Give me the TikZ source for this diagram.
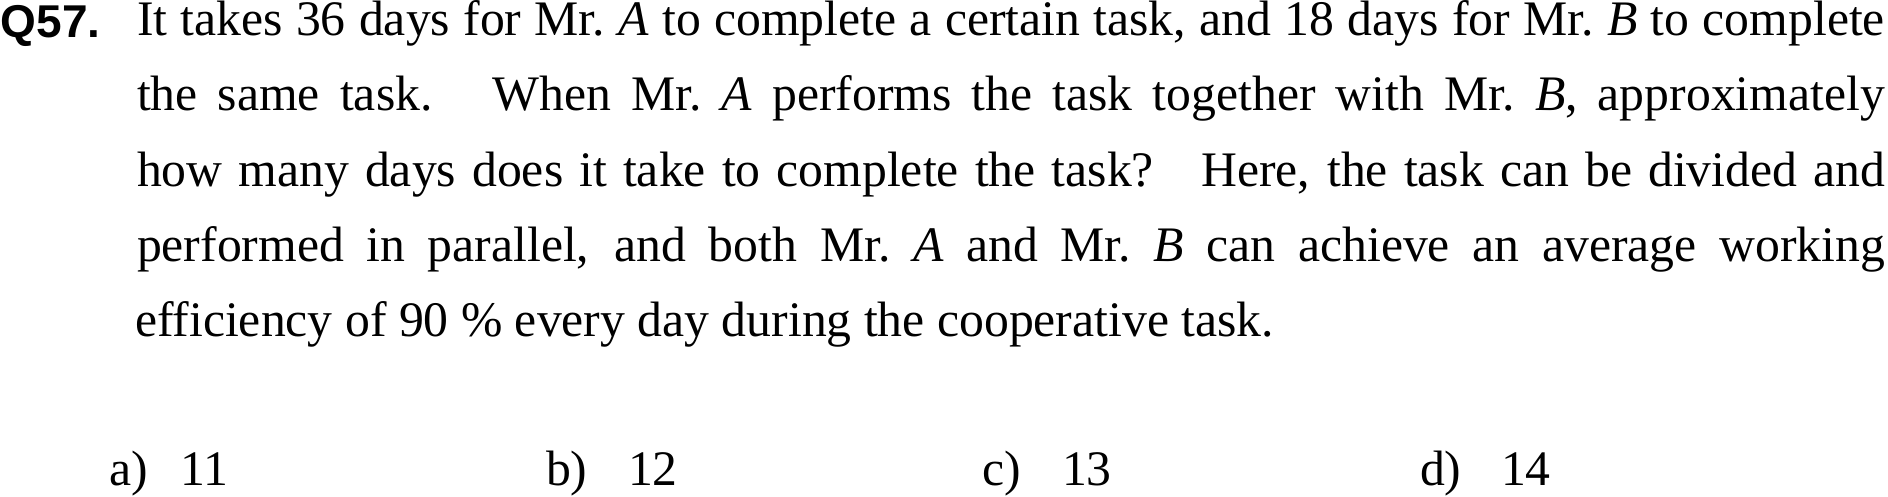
\documentclass[tikz,border=0pt]{standalone}
\usepackage{fontspec}
\setmainfont{Liberation Serif}
\newfontfamily\qfont{Liberation Sans}
\tikzset{
  txt/.style={inner sep=0pt, outer sep=0pt, anchor=base west, font=\fontsize{49.7}{60}\selectfont},
  qlabel/.style={inner sep=0pt, outer sep=0pt, anchor=base west, font=\qfont\bfseries\fontsize{46}{55}\selectfont},
}
\newcommand{\jline}[1]{\makebox[1748pt][s]{#1}}
\newcommand{\MrX}[1]{Mr.\ \textit{#1}}
\begin{document}
\begin{tikzpicture}[x=1pt,y=-1pt]
\useasboundingbox (0,0) rectangle (1888,496);
\node[qlabel] (q) at (1,37) {Q57.};
\node[txt] (l1) at (137,35.5) {\jline{It takes 36 days for \MrX{A} to complete a certain task, and 18 days for \MrX{B} to complete}};
\node[txt] (l2) at (137,110.5) {\jline{the same task.\hspace{0.4em} When \MrX{A} performs the task together with \MrX{B}, approximately}};
\node[txt] (l3) at (137,186) {\jline{how many days does it take to complete the task?\hspace{0.4em} Here, the task can be divided and}};
\node[txt] (l4) at (137,261.5) {\jline{performed in parallel, and both \MrX{A} and \MrX{B} can achieve an average working}};
\node[txt] (l5) at (135,336) {efficiency of 90 \% every day during the cooperative task.};
\node[txt] (oa) at (109,485) {a)};
\node[txt] (va) at (180,485) {11};
\node[txt] (ob) at (546,485) {b)};
\node[txt] (vb) at (628,485) {12};
\node[txt] (oc) at (982,485) {c)};
\node[txt] (vc) at (1062,485) {13};
\node[txt] (od) at (1420,485) {d)};
\node[txt] (vd) at (1501,485) {14};
\end{tikzpicture}
\end{document}
